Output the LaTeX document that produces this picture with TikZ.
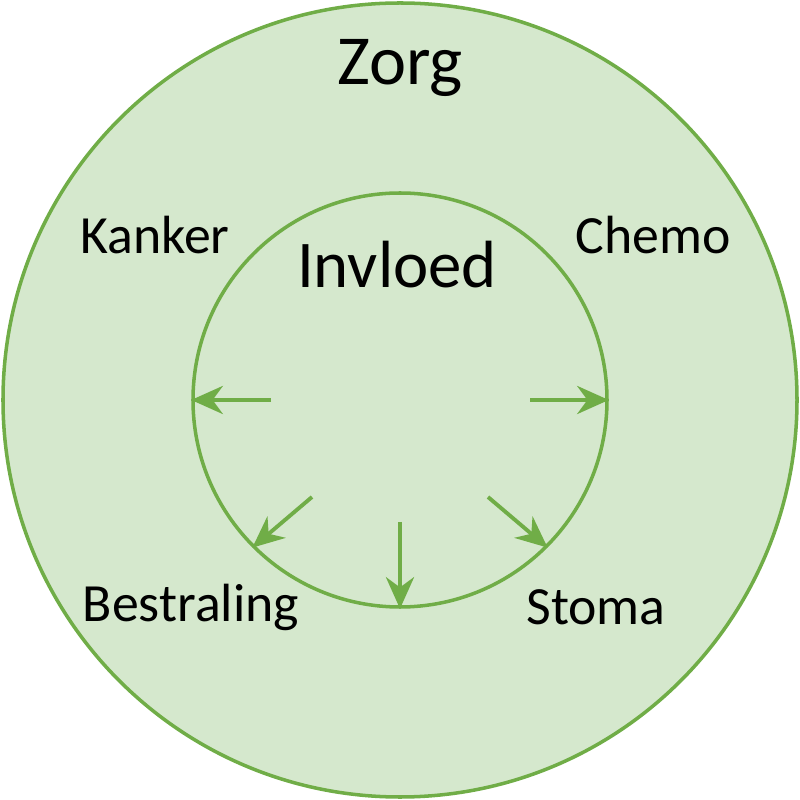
\documentclass[tikz,border=0pt]{standalone}
\usepackage{fontspec}
\setmainfont{Carlito}
\usepackage{tikz}
\usetikzlibrary{arrows.meta}
\definecolor{ringfill}{RGB}{213,232,205}
\definecolor{ringline}{RGB}{112,173,71}

\begin{document}
\begin{tikzpicture}[
        ring/.style={circle, draw=ringline, fill=ringfill, line width=1pt, inner sep=0pt},
        push/.style={-{Stealth[length=9pt, width=8pt]}, draw=ringline, line width=1.1pt},
        word/.style={font=\fontsize{15.3}{17}\selectfont}
    ]
            \useasboundingbox (-4.00, -4.00) rectangle (3.99, 4.00);

            \node[ring, minimum size=7.94cm] at (0, 0) (zorg) {};
            \node[ring, minimum size=4.14cm] at (0, 0) (invloed) {};

            \node[font=\fontsize{20}{22}\selectfont] at (0, 3.32) (zorglabel) {Zorg};
            \node[font=\fontsize{19}{21}\selectfont] at (-0.03, 1.35) (invloedlabel) {Invloed};
            \node[word] at (-2.45, 1.65) (kanker) {Kanker};
            \node[word] at (2.53, 1.65) (chemo) {Chemo};
            \node[word] at (-2.09, -2.07) (bestraling) {Bestraling};
            \node[word] at (1.96, -2.07) (stoma) {Stoma};

            \coordinate (sw) at (-1.29, 0);
            \coordinate (se) at (1.30, 0);
            \coordinate (sb) at (0, -1.22);
            \coordinate (sbl) at (-0.88, -0.97);
            \coordinate (sbr) at (0.88, -0.97);

            \draw [push] (sw) -- (invloed.180);
            \draw [push] (se) -- (invloed.0);
            \draw [push] (sb) -- (invloed.270);
            \draw [push] (sbl) -- (invloed.225);
            \draw [push] (sbr) -- (invloed.315);
        \end{tikzpicture}
\end{document}
